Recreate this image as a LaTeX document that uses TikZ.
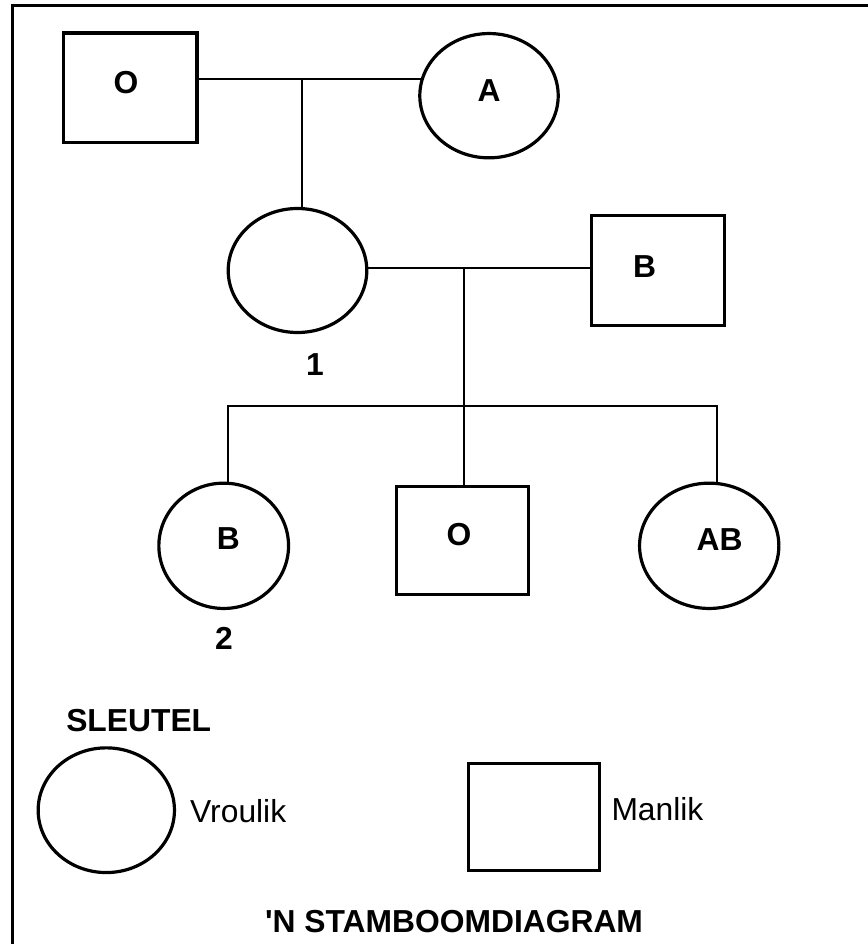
\documentclass[tikz,border=0pt]{standalone}
\usepackage{fontspec}
\setmainfont{Liberation Sans}[Ligatures=TeXOff]
\usetikzlibrary{shapes.geometric,backgrounds}
\tikzset{
  fem/.style={draw, ellipse, line width=3.2pt, fill=white, inner sep=0pt},
  male/.style={draw, rectangle, line width=3.2pt, fill=white, inner sep=0pt},
  conn/.style={line width=2.2pt},
  lbl/.style={font=\fontsize{31.8}{36}\selectfont\bfseries, inner sep=0pt},
  plain/.style={font=\fontsize{31.8}{36}\selectfont, inner sep=0pt},
  frame/.style={line width=3.3pt}
}
\begin{document}
\begin{tikzpicture}[x=1pt,y=-1pt]
\useasboundingbox (0,0) rectangle (867,944);
\draw[frame] (12.3,960) -- (12.3,5.7) -- (880,5.7);

% generation 1
\node[male, minimum width=133.5pt, minimum height=109.5pt,
      label={[lbl,xshift=-4.2pt,yshift=5pt]center:O}] (sqO) at (130.25,87.75) {};
\node[fem, minimum width=138.4pt, minimum height=124.3pt,
      label={[lbl,yshift=5pt]center:A}] (elA) at (489,95.7) {};

% generation 2
\node[fem, minimum width=138.6pt, minimum height=124pt] (c1) at (297.5,270.5) {};
\node[male, minimum width=133.3pt, minimum height=109.5pt,
      label={[lbl,xshift=-13.5pt,yshift=3.8pt]center:B}] (sqB) at (658.2,270.5) {};
\node[lbl] (n1) at (315,364.3) {1};

% generation 3
\node[fem, minimum width=129.7pt, minimum height=125.3pt,
      label={[lbl,xshift=4.6pt,yshift=6.8pt]center:B}] (elB) at (223.7,545.8) {};
\node[male, minimum width=132pt, minimum height=107.7pt,
      label={[lbl,xshift=-3.2pt,yshift=5.3pt]center:O}] (sqOc) at (462.2,540.3) {};
\node[fem, minimum width=139.3pt, minimum height=125.3pt,
      label={[lbl,xshift=10.5pt,yshift=5.8pt]center:AB}] (elAB) at (709.2,545.8) {};
\node[lbl] (n2) at (224,638.3) {2};

% connectors
\begin{pgfonlayer}{background}
\coordinate (m1) at (301.7,79.3);
\draw[conn] (sqO.center |- m1) -- (elA.center |- m1);
\draw[conn] (m1) -- (m1 |- c1.center);
\coordinate (m2) at (464,267.7);
\draw[conn] (c1.center |- m2) -- (sqB.center |- m2);
\draw[conn] (m2) -- (m2 |- sqOc.center);
\coordinate (bL) at (228.3,405.7);
\coordinate (bR) at (717,405.7);
\draw[conn] (bL |- elB.center) -- (bL) -- (bR) -- (bR |- elAB.center);
\end{pgfonlayer}

% key
\node[lbl] (key) at (138.7,720.7) {SLEUTEL};
\node[fem, minimum width=136.3pt, minimum height=124.7pt] (kf) at (106.3,810.2) {};
\node[plain, anchor=west] (tv) at (190,810.7) {Vroulik};
\node[male, minimum width=131pt, minimum height=107pt] (km) at (534.3,816.7) {};
\node[plain, anchor=west] (tm) at (611.3,809) {Manlik};

\node[lbl] (title) at (454,921.7) {'N STAMBOOMDIAGRAM};
\end{tikzpicture}
\end{document}
